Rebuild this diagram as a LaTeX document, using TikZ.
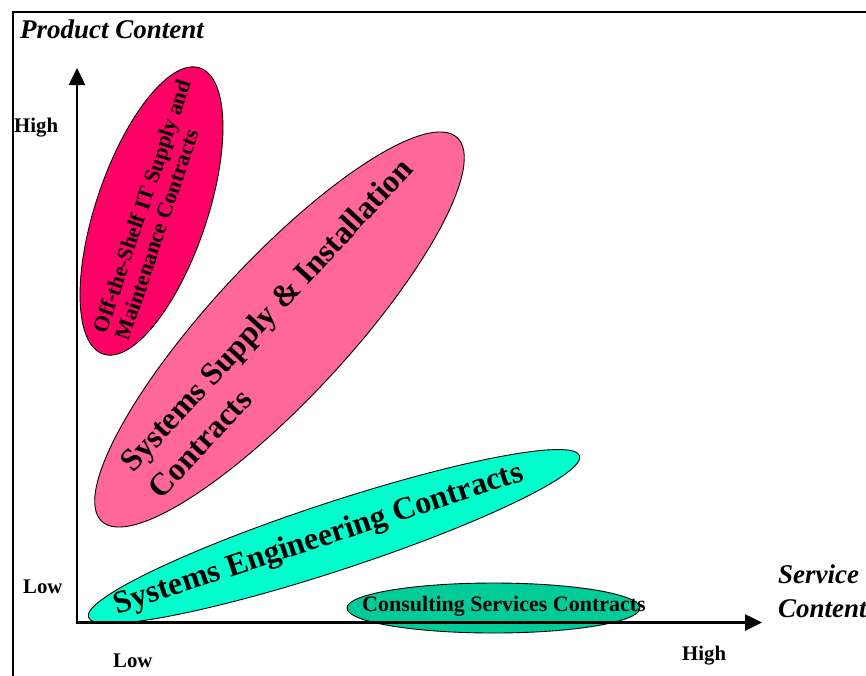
\documentclass[tikz,border=0pt]{standalone}
\usepackage{fontspec}
\setmainfont{Liberation Serif}
\usetikzlibrary{arrows.meta,shapes.geometric}
\definecolor{offshelf}{RGB}{255,0,102}
\definecolor{supply}{RGB}{255,102,153}
\definecolor{engin}{RGB}{0,255,204}
\definecolor{consult}{RGB}{0,204,153}
\begin{document}
\begin{tikzpicture}[x=1pt,y=-1pt,
  blob/.style={ellipse, draw=black, line width=0.9pt, inner sep=0pt, outer sep=0pt},
  lbl/.style={font=\bfseries\fontsize{20.8}{24}\selectfont, inner sep=0pt, anchor=base west},
  ttl/.style={font=\bfseries\itshape\fontsize{27}{34}\selectfont, inner sep=0pt, anchor=base west, align=left},
  intext/.style={font=\bfseries, inner sep=0pt, align=left},
  axis/.style={line width=2.6pt, {Triangle[length=17pt,width=16pt]}-{Triangle[length=17pt,width=16pt]}}
]
\useasboundingbox (0,0) rectangle (866,675);
% frame
\coordinate (fbl) at (13,680);
\coordinate (ftl) at (13,12);
\coordinate (ftr) at (872,12);
\draw[line width=1.4pt] (fbl) -- (ftl) -- (ftr);
% ellipses
\node[blob, fill=offshelf, minimum width=302pt, minimum height=111pt, rotate=71.3] (e1) at (151.5,211) {};
\node[blob, fill=supply, minimum width=523pt, minimum height=138pt, rotate=47.2] (e2) at (279.5,329.5) {};
\node[blob, fill=engin, minimum width=517pt, minimum height=68pt, rotate=18.2] (e3) at (334,536.5) {};
\node[blob, fill=consult, minimum width=293pt, minimum height=50pt] (e4) at (493.5,608) {};
% texts in ellipses
\node[intext, rotate=71.3, font=\bfseries\fontsize{22}{23.5}\selectfont] (t1) at (153,210) {Off-the-Shelf IT Supply and\\Maintenance Contracts};
\node[intext, rotate=47.2, font=\bfseries\fontsize{32}{39}\selectfont] (t2) at (280,328) {Systems Supply \& Installation\\Contracts};
\node[intext, rotate=18.2, font=\bfseries\fontsize{32}{39}\selectfont] (t3) at (319,540) {Systems Engineering Contracts};
\node[intext, font=\bfseries\fontsize{22}{26}\selectfont] (t4) at (504,606) {Consulting Services Contracts};
% axes
\coordinate (ytip) at (77,68);
\coordinate (origin) at (77,622.5);
\coordinate (xtip) at (762,622.5);
\draw[axis] (ytip) -- (origin) -- (xtip);
% labels
\node[ttl] (pc) at (20,38) {Product Content};
\node[ttl] (sc) at (778,617) {Service\\Content};
\node[lbl] (yhigh) at (14,132) {High};
\node[lbl] (ylow) at (23,593) {Low};
\node[lbl] (xlow) at (113,667) {Low};
\node[lbl] (xhigh) at (682,660) {High};
\end{tikzpicture}
\end{document}
